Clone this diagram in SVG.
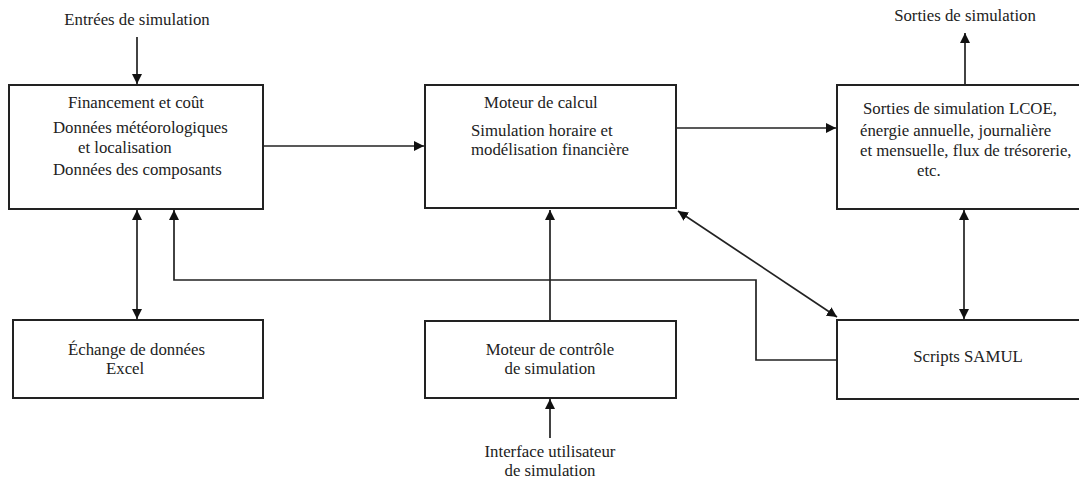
<svg xmlns="http://www.w3.org/2000/svg" width="1079" height="478" viewBox="0 0 1079 478">
<style>
.box{fill:#fff;stroke:#222;stroke-width:2}
.c{fill:none;stroke:#222;stroke-width:1.7}
text{font-family:"Liberation Serif","Times New Roman",serif;font-size:16.8px;fill:#222}
.m{text-anchor:middle}
</style>
<defs>
<marker id="ah" viewBox="0 0 10 10" refX="10" refY="5" markerWidth="10" markerHeight="10" markerUnits="userSpaceOnUse" orient="auto-start-reverse">
<path d="M0,0 L10,5 L0,10 Z" fill="#111"/>
</marker>
</defs>
<rect width="1079" height="478" fill="#fff"/>
<g id="connectors">
<line class="c" x1="137" y1="37" x2="137" y2="84" marker-end="url(#ah)"/>
<line class="c" x1="263" y1="146" x2="424" y2="146" marker-end="url(#ah)"/>
<line class="c" x1="676" y1="128" x2="836" y2="128" marker-end="url(#ah)"/>
<line class="c" x1="965" y1="85" x2="965" y2="33" marker-end="url(#ah)"/>
<line class="c" x1="137" y1="210" x2="137" y2="319" marker-start="url(#ah)" marker-end="url(#ah)"/>
<polyline class="c" points="837,360 756,360 756,280 174,280 174,210" marker-end="url(#ah)"/>
<line class="c" x1="550" y1="321" x2="550" y2="210" marker-end="url(#ah)"/>
<line class="c" x1="550" y1="438" x2="550" y2="399" marker-end="url(#ah)"/>
<line class="c" x1="678" y1="211" x2="837" y2="317" marker-start="url(#ah)" marker-end="url(#ah)"/>
<line class="c" x1="964" y1="210" x2="964" y2="319" marker-start="url(#ah)" marker-end="url(#ah)"/>
</g>
<g id="input-label"><text class="m" x="137" y="25">Entrées de simulation</text></g>
<g id="output-label"><text class="m" x="965" y="21">Sorties de simulation</text></g>
<g id="ui-label">
<text class="m" x="550" y="457">Interface utilisateur</text>
<text class="m" x="550" y="476">de simulation</text>
</g>
<g id="inputs-box">
<rect class="box" x="9" y="85" width="254" height="124"/>
<text class="m" x="136" y="108">Financement et coût</text>
<text x="53" y="133">Données météorologiques</text>
<text x="78" y="153">et localisation</text>
<text x="53" y="175">Données des composants</text>
</g>
<g id="engine-box">
<rect class="box" x="425" y="85" width="251" height="123"/>
<text x="484" y="108">Moteur de calcul</text>
<text x="471" y="136">Simulation horaire et</text>
<text x="471" y="155">modélisation financière</text>
</g>
<g id="outputs-box">
<rect class="box" x="837" y="85" width="250" height="124"/>
<text x="863" y="114">Sorties de simulation LCOE,</text>
<text x="860" y="136">énergie annuelle, journalière</text>
<text x="860" y="156">et mensuelle, flux de trésorerie,</text>
<text x="917" y="176">etc.</text>
</g>
<g id="excel-box">
<rect class="box" x="13" y="320" width="250" height="78"/>
<text x="68" y="355">Échange de données</text>
<text x="106" y="374">Excel</text>
</g>
<g id="control-box">
<rect class="box" x="425" y="321" width="251" height="77"/>
<text class="m" x="550" y="355">Moteur de contrôle</text>
<text class="m" x="550" y="374">de simulation</text>
</g>
<g id="samul-box">
<rect class="box" x="837" y="320" width="250" height="79"/>
<text class="m" x="968" y="362">Scripts SAMUL</text>
</g>
</svg>
